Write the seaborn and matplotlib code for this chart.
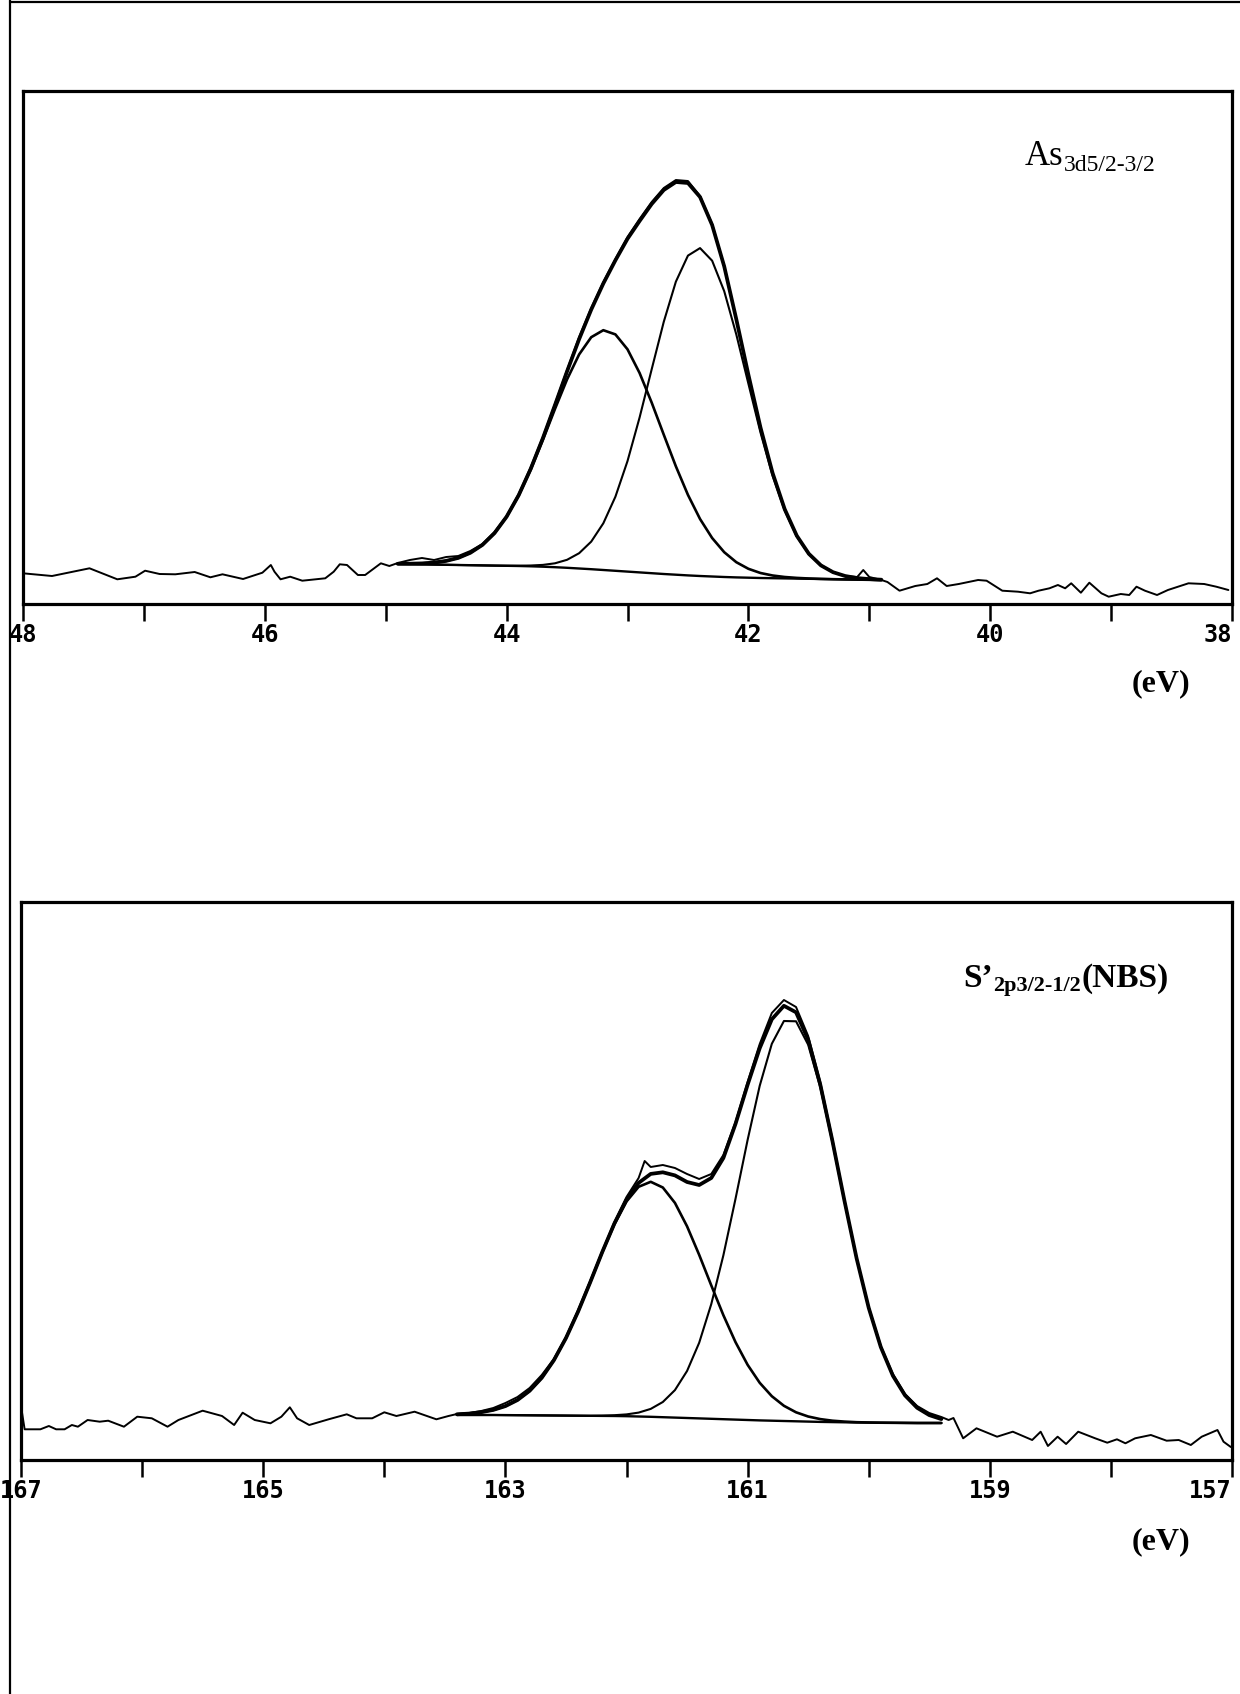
import matplotlib
matplotlib.use("Agg")
import matplotlib.pyplot as plt
import seaborn as sns
from matplotlib.lines import Line2D

# ---------------- As 3d panel (binding energy, eV) ----------------
as_raw_ev = [48.00, 47.76, 47.45, 47.22, 47.07, 46.99, 46.87, 46.74, 46.58, 46.45,
             46.35, 46.18, 46.02, 45.95, 45.92, 45.87, 45.79, 45.69, 45.50, 45.43,
             45.38, 45.32, 45.23, 45.17, 45.04, 44.97,
             44.9, 44.8, 44.7, 44.6, 44.5, 44.4, 44.3, 44.2, 44.1, 44.0, 43.9, 43.8,
             43.7, 43.6, 43.5, 43.4, 43.3, 43.2, 43.1, 43.0, 42.9, 42.8, 42.7, 42.6,
             42.5, 42.4, 42.3, 42.2, 42.1, 42.0, 41.9, 41.8, 41.7, 41.6, 41.5, 41.4,
             41.3, 41.2, 41.1, 41.05, 41.0, 40.9, 40.85,
             40.75, 40.62, 40.52, 40.44, 40.36, 40.26, 40.10, 40.03, 39.90, 39.77,
             39.67, 39.60, 39.51, 39.44, 39.38, 39.33, 39.25, 39.18, 39.08, 39.02,
             38.92, 38.85, 38.79, 38.72, 38.62, 38.53, 38.36, 38.23, 38.13, 38.03]
as_raw_int = [39.7, 37, 44.7, 33.7, 36.3, 42.3, 39, 38.7, 41, 35.7,
              38.7, 34, 40.3, 48, 41.3, 33.7, 36.3, 32.3, 34.7, 41.3,
              48.7, 48, 38, 38, 49.7, 47,
              50, 53, 55, 53, 56, 57, 62, 69, 81, 97, 119, 146,
              176, 209, 243, 276, 305, 331, 354, 376, 394, 411, 425, 433,
              432, 417, 389, 347, 294, 238, 186, 140, 104, 77, 59, 48,
              41, 37, 36, 43, 36, 33, 31,
              22.3, 27, 29, 34.7, 27, 29, 33, 32.3, 22.3, 21.3,
              19.7, 22.3, 24.7, 28, 24.7, 29.7, 20.3, 30.3, 19.7, 16.3,
              19, 18, 26.3, 22.3, 18, 23, 29.7, 29, 26.3, 23]

as_fit_ev = [44.9, 44.8, 44.7, 44.6, 44.5, 44.4, 44.3, 44.2, 44.1, 44.0, 43.9,
             43.8, 43.7, 43.6, 43.5, 43.4, 43.3, 43.2, 43.1, 43.0, 42.9, 42.8,
             42.7, 42.6, 42.5, 42.4, 42.3, 42.2, 42.1, 42.0, 41.9, 41.8, 41.7,
             41.6, 41.5, 41.4, 41.3, 41.2, 41.1, 41.0, 40.9]
as_background = [49, 48.8, 48.6, 48.4, 48.2, 48, 47.8, 47.6, 47.4, 47.2, 47,
                 46.7, 46.3, 45.8, 45.2, 44.5, 43.8, 43, 42.2, 41.4, 40.6, 39.8,
                 39, 38.3, 37.6, 37, 36.5, 36, 35.6, 35.3, 35, 34.8, 34.6,
                 34.4, 34.2, 34, 33.8, 33.6, 33.4, 33.2, 33]
as_peak1 = [49.2, 49.3, 49.6, 50.4, 52.1, 55.1, 60.2, 68.1, 79.9, 96.2, 117.5,
            143.5, 173.0, 204.0, 233.6, 258.6, 275.8, 282.8, 278.6, 263.7, 240.0, 210.4,
            178.3, 146.7, 118.1, 94.0, 75.0, 60.8, 50.8, 44.2, 40.0, 37.5, 36.0,
            35.1, 34.5, 34.1, 33.8, 33.6, 33.4, 33.2, 33.0]
as_peak2 = [49, 48.8, 48.6, 48.4, 48.2, 48, 47.8, 47.6, 47.4, 47.3, 47.3,
            47.5, 48.1, 49.7, 53.2, 59.8, 71.4, 89.7, 116.3, 151.9, 195.5, 243.7,
            291.2, 331.3, 357.4, 364.9, 352.3, 321.8, 278.5, 229.3, 180.5, 137.3, 102.5,
            76.6, 58.9, 47.5, 40.8, 37.0, 34.9, 33.9, 33.3]
as_envelope = [49.2, 49.3, 49.6, 50.4, 52.1, 55.1, 60.2, 68.1, 79.9, 96.3, 117.8,
               144.3, 174.8, 207.9, 241.6, 273.9, 303.4, 329.5, 352.7, 374.2, 392.0, 409.0,
               423.0, 431.0, 430.0, 416.0, 388.0, 346.6, 293.7, 238.2, 185.5, 140.0, 103.9,
               77.3, 59.2, 47.6, 40.8, 37.0, 34.9, 33.9, 33.3]
as_major_ticks = [48, 46, 44, 42, 40, 38]
as_minor_ticks = [47, 45, 43, 41, 39]
as_tick_labels = ["48", "46", "44", "42", "40", "38"]

# ---------------- S 2p panel (binding energy, eV) ----------------
s_raw_ev = [167.0, 166.97, 166.84, 166.77, 166.71, 166.64, 166.58, 166.53, 166.45, 166.35,
            166.28, 166.15, 166.04, 165.92, 165.79, 165.70, 165.50, 165.34, 165.24, 165.17,
            165.07, 164.94, 164.85, 164.78, 164.72, 164.62, 164.46, 164.31, 164.23, 164.10,
            164.00, 163.90, 163.75, 163.57, 163.47,
            163.4, 163.3, 163.2, 163.1, 163.0, 162.9, 162.8, 162.7, 162.6, 162.5,
            162.4, 162.3, 162.2, 162.1, 162.0, 161.9, 161.85, 161.8, 161.7, 161.6,
            161.5, 161.4, 161.3, 161.2, 161.1, 161.0, 160.9, 160.8, 160.7, 160.6,
            160.5, 160.4, 160.3, 160.2, 160.1, 160.0, 159.9, 159.8, 159.7, 159.6,
            159.5, 159.4, 159.34,
            159.30, 159.22, 159.11, 158.94, 158.81, 158.65, 158.58, 158.52, 158.44, 158.37,
            158.27, 158.13, 158.03, 157.95, 157.88, 157.80, 157.67, 157.54, 157.44, 157.34,
            157.25, 157.12, 157.07, 157.01]
s_raw_int = [52, 28.7, 28.7, 32, 28.7, 28.7, 33, 31.3, 38, 36.3,
             37.3, 31.3, 41.3, 39.7, 31.3, 38, 47.3, 42, 33, 45.3,
             38, 34.7, 41.3, 50.7, 39.7, 33, 38.7, 43.7, 39.7, 39.7,
             45.7, 42, 46.3, 38.7, 42,
             44, 45, 47, 50, 55, 61, 70, 83, 99, 121,
             148, 177, 207, 236, 261, 280, 297, 291, 293, 290,
             284, 279, 284, 303, 336, 376, 414, 445, 458, 451,
             422, 376, 319, 258, 200, 151, 112, 84, 64, 52,
             45, 41, 38,
             40, 19.7, 29.7, 21.3, 26.3, 18, 26.3, 12, 21.3, 14,
             26.3, 19.7, 15.3, 18.7, 14.7, 19.7, 23, 17.3, 18, 13,
             21.3, 28, 16.3, 11]

s_fit_ev = [163.4, 163.3, 163.2, 163.1, 163.0, 162.9, 162.8, 162.7, 162.6, 162.5,
            162.4, 162.3, 162.2, 162.1, 162.0, 161.9, 161.8, 161.7, 161.6, 161.5,
            161.4, 161.3, 161.2, 161.1, 161.0, 160.9, 160.8, 160.7, 160.6, 160.5,
            160.4, 160.3, 160.2, 160.1, 160.0, 159.9, 159.8, 159.7, 159.6, 159.5, 159.4]
s_background = [43, 43, 43, 43, 42.9, 42.8, 42.7, 42.6, 42.5, 42.4,
                42.3, 42.2, 42.1, 42, 41.8, 41.5, 41.2, 40.8, 40.4, 40,
                39.6, 39.2, 38.8, 38.4, 38, 37.6, 37.3, 37, 36.7, 36.4,
                36.1, 35.9, 35.7, 35.5, 35.4, 35.3, 35.2, 35.1, 35, 35, 35]
s_peak1 = [43.7, 44.4, 45.8, 48.1, 51.9, 58.0, 67.2, 80.2, 97.7, 119.9,
           146.3, 175.6, 205.7, 233.7, 256.5, 271.2, 276.2, 270.5, 255.1, 231.7,
           203.2, 172.6, 142.8, 115.9, 93.2, 75.2, 61.8, 52.2, 45.7, 41.5,
           38.9, 37.3, 36.4, 35.8, 35.5, 35.3, 35.2, 35.1, 35, 35, 35]
s_peak2 = [43, 43, 43, 43, 42.9, 42.8, 42.7, 42.6, 42.5, 42.4,
           42.3, 42.2, 42.4, 42.8, 43.6, 45.4, 49.1, 56.0, 67.9, 87.0,
           115.2, 153.9, 202.7, 259.1, 318.0, 372.2, 414.2, 437.0, 436.7, 413.3,
           370.7, 315.9, 256.4, 199.4, 150.1, 110.9, 82.2, 62.6, 50.2, 42.9, 38.9]
s_envelope = [43.7, 44.4, 45.8, 48.1, 51.9, 58.0, 67.2, 80.2, 97.7, 119.9,
              146.3, 175.6, 206.0, 234.5, 258.3, 275.1, 284.1, 285.7, 282.6, 276.0,
              273.0, 280.0, 300.0, 334.0, 373.2, 409.8, 438.7, 452.2, 445.7, 418.4,
              373.5, 317.3, 257.1, 199.7, 150.2, 110.9, 82.2, 62.6, 50.2, 42.9, 38.9]
s_major_ticks = [167, 165, 163, 161, 159, 157]
s_minor_ticks = [166, 164, 162, 160, 158]
s_tick_labels = ["167", "165", "163", "161", "159", "157"]

# ---------------- figure ----------------
sns.set_theme(style="white")
plt.rcParams['font.family'] = ['DejaVu Sans']

W, H = 1240, 1694
fig = plt.figure(figsize=(W / 100, H / 100), dpi=100)
fig.patch.set_facecolor("white")

ax1 = fig.add_axes([23 / W, 1 - 604 / H, (1232 - 23) / W, (604 - 91) / H])
ax2 = fig.add_axes([21 / W, 1 - 1460 / H, (1232 - 21) / W, (1460 - 902) / H])


def draw_panel(ax, raw_x, raw_y, fit_x, bg, p1, p2, env, major, minor, labels, xlim, ylim):
    sns.lineplot(x=raw_x, y=raw_y, ax=ax, color="black", lw=1.4, sort=False, estimator=None)
    sns.lineplot(x=fit_x, y=bg, ax=ax, color="black", lw=1.7, sort=False, estimator=None)
    sns.lineplot(x=fit_x, y=p1, ax=ax, color="black", lw=1.9, sort=False, estimator=None)
    sns.lineplot(x=fit_x, y=p2, ax=ax, color="black", lw=1.5, sort=False, estimator=None)
    sns.lineplot(x=fit_x, y=env, ax=ax, color="black", lw=2.7, sort=False, estimator=None)
    ax.set_xlim(*xlim)
    ax.set_ylim(*ylim)
    ax.set_xticks(major)
    ax.set_xticklabels(labels)
    ax.set_xticks(minor, minor=True)
    ax.set_yticks([])
    ax.set_xlabel("")
    ax.set_ylabel("")
    ax.tick_params(axis="x", which="both", direction="out", length=12, width=1.8,
                   bottom=True, top=False, color="black", labelcolor="black",
                   pad=2, labelsize=17)
    tls = ax.get_xticklabels()
    for lbl in tls:
        lbl.set_fontfamily("DejaVu Sans Mono")
        lbl.set_fontweight("bold")
    tls[-1].set_horizontalalignment("right")
    for s in ax.spines.values():
        s.set_visible(True)
        s.set_color("black")
        s.set_linewidth(2.3)
    ax.set_facecolor("white")
    ax.grid(False)


draw_panel(ax1, as_raw_ev, as_raw_int, as_fit_ev, as_background, as_peak1, as_peak2,
           as_envelope, as_major_ticks, as_minor_ticks, as_tick_labels, (48, 38), (9, 522))
draw_panel(ax2, s_raw_ev, s_raw_int, s_fit_ev, s_background, s_peak1, s_peak2,
           s_envelope, s_major_ticks, s_minor_ticks, s_tick_labels, (167, 157), (-2, 556))

serif = "Liberation Serif"

# As label
t1 = fig.text(1025 / W, 1 - 165 / H, "As", fontsize=25, family=serif,
              ha="left", va="baseline", color="black")
ax1.annotate("3d5/2-3/2", xy=(1, 0), xycoords=t1, xytext=(0.5, -2),
             textcoords="offset points", fontsize=17, family=serif,
             ha="left", va="bottom", color="black", annotation_clip=False)

# S label
t2 = fig.text(963 / W, 1 - 987 / H, "S\u2019", fontsize=24, family=serif,
              fontweight="bold", ha="left", va="baseline", color="black")
sub2 = ax2.annotate("2p3/2-1/2", xy=(1, 0), xycoords=t2, xytext=(0.5, -1.5),
                    textcoords="offset points", fontsize=16, family=serif,
                    fontweight="bold", ha="left", va="bottom", color="black",
                    annotation_clip=False)
ax2.annotate("(NBS)", xy=(1, 0), xycoords=(sub2, t2), xytext=(0.5, 0),
             textcoords="offset points", fontsize=24, family=serif,
             fontweight="bold", ha="left", va="bottom", color="black",
             annotation_clip=False)

# (eV) unit labels
fig.text(1161 / W, 1 - 684 / H, "(eV)", fontsize=23, family=serif, fontweight="bold",
         ha="center", va="center", color="black")
fig.text(1161 / W, 1 - 1542 / H, "(eV)", fontsize=23, family=serif, fontweight="bold",
         ha="center", va="center", color="black")

# page frame (scan border)
fig.add_artist(Line2D([10 / W, 10 / W], [0, 1], transform=fig.transFigure,
                      color="black", lw=1.6))
fig.add_artist(Line2D([10 / W, 1], [1 - 2 / H, 1 - 2 / H], transform=fig.transFigure,
                      color="black", lw=1.6))

fig.savefig("out.png", dpi=100, facecolor="white")
